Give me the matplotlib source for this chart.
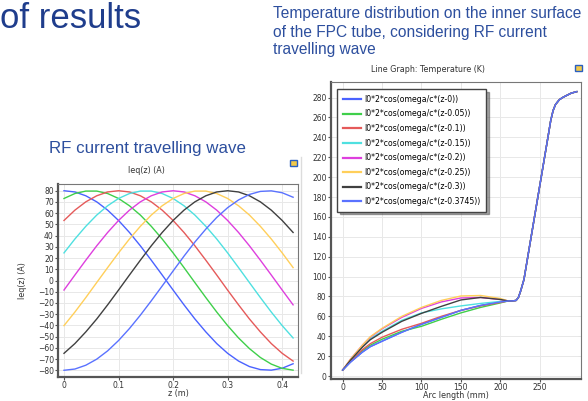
import matplotlib
matplotlib.use("Agg")
import matplotlib.pyplot as plt
from matplotlib.patches import Rectangle
from matplotlib.lines import Line2D

W, H = 588, 401

# ---- RF current travelling wave, Ieq(z) in A, read at z = 0, 0.02, ..., 0.42 m
z_m = [0.00, 0.02, 0.04, 0.06, 0.08, 0.10, 0.12, 0.14, 0.16, 0.18, 0.20,
       0.22, 0.24, 0.26, 0.28, 0.30, 0.32, 0.34, 0.36, 0.38, 0.40, 0.42]
i_z0 = [80, 78.9, 75.5, 70.1, 62.7, 53.5, 42.8, 30.9, 18.1, 4.9, -8.5,
        -21.7, -34.3, -45.8, -56.2, -64.9, -71.8, -76.7, -79.4, -79.9, -78.2, -74.2]
i_z005 = [73.1, 77.5, 79.7, 79.7, 77.5, 73.1, 66.6, 58.3, 48.3, 37.0, 24.6,
          11.5, -1.9, -15.2, -28.1, -40.2, -51.2, -60.7, -68.6, -74.5, -78.3, -79.9]
i_z01 = [53.5, 62.7, 70.1, 75.5, 78.9, 80, 78.9, 75.5, 70.1, 62.7, 53.5,
         42.8, 30.9, 18.1, 4.9, -8.6, -21.7, -34.3, -45.8, -56.2, -64.9, -71.8]
i_z015 = [24.6, 37.0, 48.3, 58.3, 66.6, 73.1, 77.5, 79.7, 79.7, 77.5, 73.1,
          66.6, 58.3, 48.3, 37.0, 24.6, 11.5, -1.9, -15.2, -28.1, -40.2, -51.2]
i_z02 = [-8.5, 4.9, 18.1, 30.9, 42.8, 53.5, 62.7, 70.1, 75.5, 78.9, 80,
         78.9, 75.5, 70.1, 62.7, 53.5, 42.8, 30.9, 18.1, 4.9, -8.5, -21.7]
i_z025 = [-40.2, -28.1, -15.2, -1.8, 11.5, 24.6, 37.0, 48.3, 58.3, 66.6, 73.1,
          77.5, 79.7, 79.7, 77.5, 73.1, 66.6, 58.3, 48.3, 37.0, 24.6, 11.5]
i_z03 = [-64.9, -56.2, -45.8, -34.3, -21.7, -8.5, 4.9, 18.1, 30.9, 42.8, 53.5,
         62.7, 70.1, 75.5, 78.9, 80, 78.9, 75.5, 70.1, 62.7, 53.5, 42.8]
i_z03745 = [-80, -78.9, -75.5, -70.1, -62.7, -53.5, -42.8, -30.9, -18.1, -4.9, 8.5,
            21.7, 34.3, 45.8, 56.2, 64.9, 71.8, 76.7, 79.4, 79.9, 78.2, 74.2]

# ---- Temperature (K) along arc length (mm)
arc_low = [0, 10, 25, 35, 50, 75, 100, 125, 150, 175, 200, 210]
t_z0 = [6, 14, 24, 29.5, 35, 44, 52, 59, 66, 71, 74.5, 75.5]
t_z005 = [6, 14.5, 25.5, 31, 37, 45, 50, 57, 63.5, 69, 73.5, 75.5]
t_z01 = [6, 15, 26.5, 32.5, 39, 47, 53, 60, 66, 70.5, 74, 75.5]
t_z015 = [6, 16, 29.5, 37.5, 45, 56, 63.5, 67.5, 70.5, 73, 75, 75.5]
t_z02 = [6, 17, 31, 39, 47.5, 59, 68, 74.5, 78.5, 79, 77, 75.5]
t_z025 = [6, 17, 31, 39.5, 48, 60, 69, 76, 80.5, 81, 78, 75.5]
t_z03 = [6, 16, 29, 36.5, 44, 55, 63, 70, 76.5, 79, 77, 75.5]
t_z03745 = t_z0
# shared part after the curves meet
arc_high = [215, 220, 223, 226, 230, 240, 250, 260, 264, 267, 270, 275, 280, 290, 297]
t_high = [75.5, 76, 79, 86, 97, 144, 191, 238, 257, 267, 273, 278, 280.5, 284.5, 286]

labels = ["I0*2*cos(omega/c*(z-0))", "I0*2*cos(omega/c*(z-0.05))",
          "I0*2*cos(omega/c*(z-0.1))", "I0*2*cos(omega/c*(z-0.15))",
          "I0*2*cos(omega/c*(z-0.2))", "I0*2*cos(omega/c*(z-0.25))",
          "I0*2*cos(omega/c*(z-0.3))", "I0*2*cos(omega/c*(z-0.3745))"]
colors = ["#4a62ff", "#3fcf4a", "#e55a5a", "#4fe0e0", "#de3fde", "#ffcf5a", "#404040", "#5a72ff"]
currents = [i_z0, i_z005, i_z01, i_z015, i_z02, i_z025, i_z03, i_z03745]
temps = [t_z0, t_z005, t_z01, t_z015, t_z02, t_z025, t_z03, t_z03745]

slide_blue = "#1f3d8c"
text_blue = "#2d4f9e"
chart_font = "DejaVu Sans"
slide_font = "Liberation Sans"


def fx(px):
    return px / W


def fy(py):
    return 1 - py / H


def style_axes(ax):
    for s in ["left", "bottom"]:
        ax.spines[s].set_color("#555555")
        ax.spines[s].set_linewidth(1.6)
    for s in ["top", "right"]:
        ax.spines[s].set_color("#777777")
        ax.spines[s].set_linewidth(0.8)
    ax.grid(True, color="#e8e8e8", linewidth=0.7)
    ax.set_axisbelow(True)
    ax.tick_params(direction="out", length=2.2, width=0.8, color="#555555",
                   labelsize=5.5, labelcolor="#333333", pad=0.8)
    for lab in ax.get_xticklabels() + ax.get_yticklabels():
        lab.set_family(chart_font)
    # inward ticks on top and right
    top = ax.secondary_xaxis("top")
    top.set_xticks(ax.get_xticks())
    top.tick_params(direction="in", length=2.5, width=0.6, color="#777777", labeltop=False)
    top.spines["top"].set_visible(False)
    right = ax.secondary_yaxis("right")
    right.set_yticks(ax.get_yticks())
    right.tick_params(direction="in", length=2.5, width=0.6, color="#777777", labelright=False)
    right.spines["right"].set_visible(False)


fig = plt.figure(figsize=(W / 100, H / 100), dpi=100)
fig.patch.set_facecolor("white")

# slide texts
fig.text(fx(0), fy(28), "of results", fontsize=25, color=slide_blue,
         family=slide_font, va="baseline", ha="left")
for line, base in zip(["Temperature distribution on the inner surface",
                       "of the FPC tube, considering RF current",
                       "travelling wave"], [18.3, 36.5, 54.3]):
    fig.text(fx(273), fy(base), line, fontsize=11.2, color=text_blue,
             family=slide_font, va="baseline", ha="left")
fig.text(fx(49), fy(152.7), "RF current travelling wave", fontsize=12.2,
         color=text_blue, family=slide_font, va="baseline", ha="left")

# left chart
ax1 = fig.add_axes([fx(58), fy(377), fx(298) - fx(58), fy(184) - fy(377)])
for y, c in zip(currents, colors):
    ax1.plot(z_m, y, color=c, linewidth=1.0)
ax1.set_xlim(-0.011, 0.429)
ax1.set_ylim(-86, 86)
ax1.set_xticks([0, 0.1, 0.2, 0.3, 0.4])
ax1.set_xticklabels(["0", "0.1", "0.2", "0.3", "0.4"])
ax1.set_yticks(list(range(-80, 81, 10)))
style_axes(ax1)
ax1.set_xlabel("z (m)", fontsize=5.8, family=chart_font, color="#333333", labelpad=-1)
ax1.set_ylabel("Ieq(z) (A)", fontsize=5.8, family=chart_font, color="#333333", labelpad=8)
fig.text(fx(146), fy(170.7), "Ieq(z) (A)", fontsize=5.8, family=chart_font,
         color="#333333", ha="center", va="center")

# right chart
ax2 = fig.add_axes([fx(330.7), fy(379), fx(581) - fx(330.7), fy(81.7) - fy(379)])
for y, c, lab in zip(temps, colors, labels):
    ax2.plot(arc_low + arc_high, y + t_high, color=c, linewidth=1.0, label=lab)
ax2.set_xlim(-15.2, 302.4)
ax2.set_ylim(-3, 296)
ax2.set_xticks([0, 50, 100, 150, 200, 250])
ax2.set_yticks(list(range(0, 281, 20)))
style_axes(ax2)
ax2.set_xlabel("Arc length (mm)", fontsize=5.8, family=chart_font, color="#333333", labelpad=-1)
fig.text(fx(428), fy(69), "Line Graph: Temperature (K)", fontsize=5.8, family=chart_font,
         color="#333333", ha="center", va="center")
handles = [Line2D([], [], color=c, linewidth=1.6) for c in colors]
leg = ax2.legend(handles, labels, loc="upper left", bbox_to_anchor=(0.026, 0.974),
                 prop={"family": chart_font, "size": 5.6}, frameon=True, fancybox=False,
                 shadow=True, edgecolor="#444444", handlelength=2.3, handletextpad=0.5,
                 labelspacing=0.72, borderpad=0.7, borderaxespad=0)
leg.get_frame().set_linewidth(1.0)

# small window icons and panel edge
for x0, y0 in [(290, 160), (575, 65)]:
    fig.patches.append(Rectangle((fx(x0), fy(y0 + 6)), 7 / W, 6 / H, transform=fig.transFigure,
                                 facecolor="#f2c94a", edgecolor="#2a5fc0", linewidth=1.0))
fig.lines.append(Line2D([fx(300.5), fx(300.5)], [fy(157), fy(373)], transform=fig.transFigure,
                       color="#dcdcdc", linewidth=1.0))

fig.savefig("out.png", dpi=100)
